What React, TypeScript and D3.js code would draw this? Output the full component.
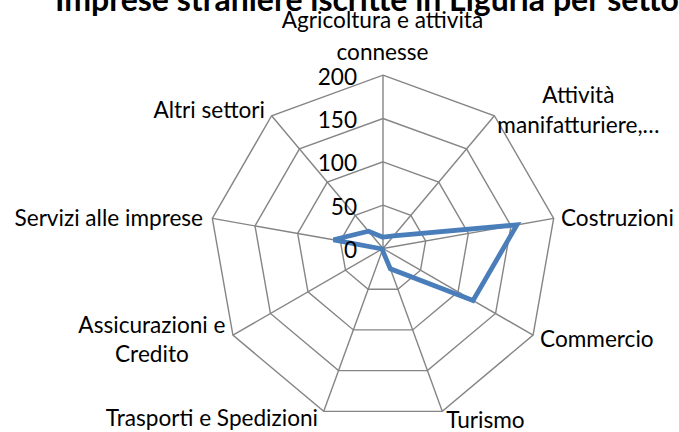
import React from "react";
import * as d3 from "d3";

const title = "Imprese straniere iscritte in Liguria per settore";
const categories = [
  "Agricoltura e attività\nconnesse",
  "Attività\nmanifatturiere,…",
  "Costruzioni",
  "Commercio",
  "Turismo",
  "Trasporti e Spedizioni",
  "Assicurazioni e\nCredito",
  "Servizi alle imprese",
  "Altri settori",
];
const values = [13, 19, 157, 120, 25, 2, 1, 58, 26];
const tickValues = [0, 50, 100, 150, 200];

// label placement relative to each spoke's outer vertex
const labelLayout = [
  { anchor: "middle", dx: -0.5, dy: -47.2, lh: 31.5 },
  { anchor: "middle", dx: 84, dy: -13, lh: 30 },
  { anchor: "start", dx: 7.3, dy: 7.6, lh: 0 },
  { anchor: "start", dx: 7, dy: 12, lh: 0 },
  { anchor: "start", dx: 4, dy: 16.5, lh: 0 },
  { anchor: "end", dx: -5.7, dy: 15, lh: 0 },
  { anchor: "middle", dx: -81, dy: -2, lh: 28.7 },
  { anchor: "end", dx: -9.3, dy: 7.6, lh: 0 },
  { anchor: "end", dx: -6.6, dy: 2.3, lh: 0 },
];

const W = 679;
const H = 432;
const cx = 383;
const cy = 248.5;
const R = 173.3;
const FONT = "Lato, 'Open Sans', sans-serif";
const FS = 22.6;

export default function App() {
  const n = categories.length;
  const r = d3.scaleLinear().domain([0, 200]).range([0, R]);
  const angle = d3
    .scaleLinear()
    .domain([0, n])
    .range([0, 2 * Math.PI]);

  const radial = d3
    .lineRadial<number>()
    .angle((_, i) => angle(i))
    .radius((d) => r(d))
    .curve(d3.curveLinearClosed);

  const pt = (i: number, v: number) => {
    const a = angle(i);
    return [r(v) * Math.sin(a), -r(v) * Math.cos(a)];
  };

  return (
    <div style={{ position: "fixed", left: 0, top: 0, width: W, height: H, background: "#fff" }}>
      <svg width={W} height={H} style={{ display: "block" }}>
        <rect width={W} height={H} fill="#fff" />
        <g transform={`translate(${cx},${cy})`}>
          {tickValues
            .filter((t) => t > 0)
            .map((t) => (
              <path
                key={"ring" + t}
                d={radial(categories.map(() => t)) as string}
                fill="none"
                stroke="#858585"
                strokeWidth={1.4}
              />
            ))}
          {categories.map((_, i) => {
            const [x, y] = pt(i, 200);
            return <line key={"spoke" + i} x1={0} y1={0} x2={x} y2={y} stroke="#858585" strokeWidth={1.4} />;
          })}
          <path d={radial(values) as string} fill="none" stroke="#4A7EBB" strokeWidth={4.8} strokeLinejoin="miter" />
          {tickValues.map((t) => (
            <text
              key={"tick" + t}
              x={-26}
              y={-r(t) + 9.5}
              textAnchor="end"
              fontFamily={FONT}
              fontSize={FS}
              fill="#000"
            >
              {t}
            </text>
          ))}
          {categories.map((c, i) => {
            const [x, y] = pt(i, 200);
            const L = labelLayout[i];
            const lines = c.split("\n");
            return (
              <text
                key={"cat" + i}
                x={x + L.dx}
                y={y + L.dy}
                textAnchor={L.anchor as any}
                fontFamily={FONT}
                fontSize={FS}
                fill="#000"
              >
                {lines.map((ln, k) => (
                  <tspan key={k} x={x + L.dx} dy={k === 0 ? 0 : L.lh}>
                    {ln}
                  </tspan>
                ))}
              </text>
            );
          })}
        </g>
        <text x={55} y={11} fontFamily={FONT} fontWeight={700} fontSize={32} fill="#000">
          {title}
        </text>
      </svg>
    </div>
  );
}
